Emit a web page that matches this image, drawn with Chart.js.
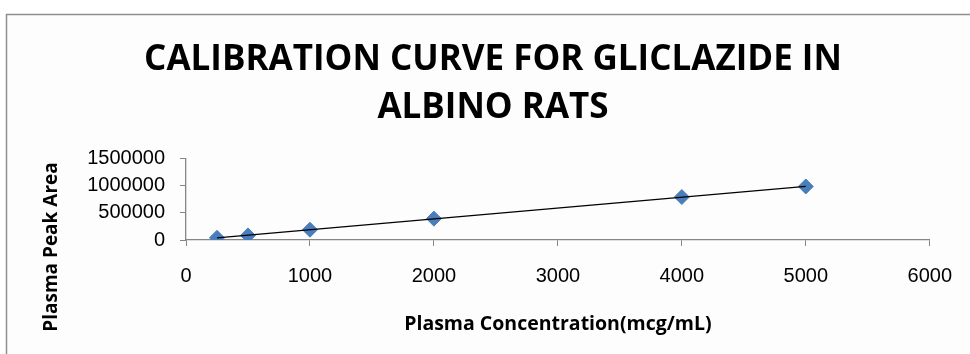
<!DOCTYPE html>
<html>
<head>
<meta charset="utf-8">
<script src="https://cdn.jsdelivr.net/npm/chart.js@4"></script>
<style>
  html, body { margin: 0; padding: 0; background: #ffffff; }
  #wrap { width: 970px; height: 354px; position: relative; }
</style>
</head>
<body>
<div id="wrap"><canvas id="c" width="970" height="354"></canvas></div>
<script>
// Calibration data: plasma concentration (mcg/mL) vs. plasma peak area
const concentrations = [250, 500, 1000, 2000, 4000, 5000];
const peakAreas = [40000, 85000, 190000, 395000, 795000, 990000];
const xTicks = [0, 1000, 2000, 3000, 4000, 5000, 6000];
const yTicks = [0, 500000, 1000000, 1500000];

const titleLines = ['CALIBRATION CURVE FOR GLICLAZIDE IN', 'ALBINO RATS'];
const xTitle = 'Plasma Concentration(mcg/mL)';
const yTitle = 'Plasma Peak Area';

// Least-squares linear trendline through the calibration points
function linearFit(xs, ys) {
  const n = xs.length;
  const mx = xs.reduce((a, b) => a + b, 0) / n;
  const my = ys.reduce((a, b) => a + b, 0) / n;
  let sxy = 0, sxx = 0;
  for (let i = 0; i < n; i++) {
    sxy += (xs[i] - mx) * (ys[i] - my);
    sxx += (xs[i] - mx) * (xs[i] - mx);
  }
  const slope = sxy / sxx;
  return { slope, intercept: my - slope * mx };
}
const fit = linearFit(concentrations, peakAreas);
const xMin = Math.min(...concentrations);
const xMax = Math.max(...concentrations);
const trendPoints = [xMin, xMax].map(x => ({ x, y: fit.intercept + fit.slope * x }));
const samplePoints = concentrations.map((x, i) => ({ x, y: peakAreas[i] }));

const AXIS_GREY = '#868686';
const TITLE_FONT = '"Open Sans", Lato, sans-serif';
const TICK_FONT = '"Liberation Sans", Arial, sans-serif';

// Outer frame of the chart object
const framePlugin = {
  id: 'frame',
  beforeDraw(chart) {
    const ctx = chart.ctx;
    ctx.save();
    ctx.fillStyle = '#ffffff';
    ctx.fillRect(0, 0, chart.width, chart.height);
    ctx.fillStyle = '#fdfdfd';
    ctx.fillRect(7, 14, chart.width, chart.height);
    ctx.strokeStyle = '#8e8e8e';
    ctx.lineWidth = 1.5;
    ctx.beginPath();
    ctx.moveTo(6.5, chart.height + 5);
    ctx.lineTo(6.5, 14.5);
    ctx.lineTo(chart.width + 5, 14.5);
    ctx.stroke();
    ctx.restore();
  }
};

// Vertical axis title, placed beside the plot
const yTitlePlugin = {
  id: 'yTitle',
  afterDraw(chart) {
    const ctx = chart.ctx;
    ctx.save();
    ctx.translate(52, 247);
    ctx.rotate(-Math.PI / 2);
    ctx.font = 'bold 19px ' + TITLE_FONT;
    ctx.fillStyle = '#000000';
    ctx.textAlign = 'center';
    ctx.textBaseline = 'middle';
    ctx.fillText(yTitle, 0, 0);
    ctx.restore();
  }
};

new Chart(document.getElementById('c'), {
  type: 'scatter',
  data: {
    datasets: [
      {
        type: 'line',
        data: trendPoints,
        borderColor: '#000000',
        borderWidth: 1.3,
        pointRadius: 0,
        fill: false
      },
      {
        data: samplePoints,
        pointStyle: 'rectRot',
        pointRadius: 7.5,
        pointBackgroundColor: '#4a7ebb',
        pointBorderColor: '#4a7ebb',
        pointBorderWidth: 1
      }
    ]
  },
  options: {
    responsive: false,
    animation: false,
    events: [],
    layout: { padding: { left: 56, right: 40, top: 0, bottom: 0 } },
    plugins: {
      legend: { display: false },
      tooltip: { enabled: false },
      title: {
        display: true,
        text: titleLines,
        color: '#000000',
        font: { family: TITLE_FONT, size: 35, weight: 'bold', lineHeight: 1.37 },
        padding: { top: 36, bottom: 27 }
      }
    },
    scales: {
      x: {
        type: 'linear',
        min: 0,
        max: 6000,
        afterBuildTicks(scale) { scale.ticks = xTicks.map(v => ({ value: v })); },
        afterFit(scale) { scale.height = 114; },
        ticks: {
          color: '#000000',
          font: { family: TICK_FONT, size: 20 },
          padding: 18,
          maxRotation: 0,
          autoSkip: false,
          callback: v => String(v)
        },
        grid: {
          drawOnChartArea: false,
          drawTicks: true,
          tickLength: 6,
          color: AXIS_GREY,
          tickColor: AXIS_GREY
        },
        border: { color: AXIS_GREY, width: 1.3 },
        title: {
          display: true,
          text: xTitle,
          color: '#000000',
          font: { family: TITLE_FONT, size: 19.5, weight: 'bold' },
          padding: { top: 0, bottom: 18 }
        }
      },
      y: {
        type: 'linear',
        min: 0,
        max: 1500000,
        afterBuildTicks(scale) { scale.ticks = yTicks.map(v => ({ value: v })); },
        afterFit(scale) { scale.width = 130; },
        ticks: {
          color: '#000000',
          font: { family: TICK_FONT, size: 20 },
          padding: 15,
          autoSkip: false,
          callback: v => String(v)
        },
        grid: {
          drawOnChartArea: false,
          drawTicks: true,
          tickLength: 6,
          color: AXIS_GREY,
          tickColor: AXIS_GREY
        },
        border: { color: AXIS_GREY, width: 1.3 }
      }
    }
  },
  plugins: [framePlugin, yTitlePlugin]
});
</script>
</body>
</html>
